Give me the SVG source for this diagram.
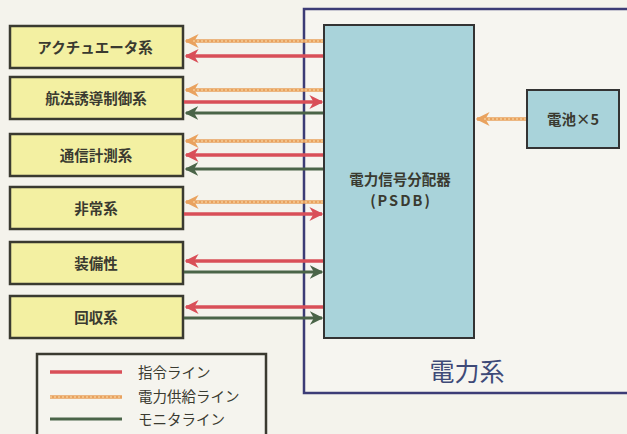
<svg xmlns="http://www.w3.org/2000/svg" width="627" height="434" viewBox="0 0 627 434">
<defs>
<style>
.sys rect{fill:#f3f0a2;stroke:#3a3a30;stroke-width:2.5}
.sys text{font-family:"Noto Sans CJK JP",sans-serif;font-size:14.5px;font-weight:bold;fill:#3a3a30;text-anchor:middle}
.red{stroke:#d94f58;stroke-width:3.5;fill:none}
.org{stroke:#e9a25e;stroke-width:3.5;fill:none}
.orgd{stroke:#fbe0b0;stroke-width:1.2;stroke-dasharray:2 2;fill:none}
.grn{stroke:#4a6448;stroke-width:3;fill:none}
.lg{font-family:"Noto Sans CJK JP",sans-serif;font-size:14.5px;fill:#3a3a30}
.bx{font-family:"Noto Sans CJK JP",sans-serif;font-size:14.5px;font-weight:bold;fill:#3a3a30;text-anchor:middle}
</style>
<marker id="ar" viewBox="0 0 10 10" refX="9" refY="5" markerWidth="4" markerHeight="4" orient="auto-start-reverse" markerUnits="strokeWidth"><path d="M0,0 L10,5 L0,10 L3,5 Z" fill="#d94f58"/></marker>
<marker id="ao" viewBox="0 0 10 10" refX="9" refY="5" markerWidth="4" markerHeight="4" orient="auto-start-reverse" markerUnits="strokeWidth"><path d="M0,0 L10,5 L0,10 L3,5 Z" fill="#e9a25e"/></marker>
<marker id="ag" viewBox="0 0 10 10" refX="9" refY="5" markerWidth="4.5" markerHeight="4.5" orient="auto-start-reverse" markerUnits="strokeWidth"><path d="M0,0 L10,5 L0,10 L3,5 Z" fill="#4a6448"/></marker>
</defs>
<rect width="627" height="434" fill="#f4f3ec"/>

<g id="power-system">
<rect x="304" y="9" width="330" height="384" fill="#f6f5f0" stroke="#3c3c76" stroke-width="2.5"/>
<text x="467" y="381" font-family="Noto Sans CJK JP,sans-serif" font-size="25" fill="#3e4a78" text-anchor="middle">電力系</text>
</g>

<g id="psdb">
<rect x="324" y="25" width="150" height="313" fill="#a9d3da" stroke="#333" stroke-width="2"/>
<text class="bx" x="400" y="185">電力信号分配器</text>
<text class="bx" x="401" y="206" font-size="14" letter-spacing="2">(PSDB)</text>
</g>

<g id="battery">
<rect x="527" y="90" width="92" height="58" fill="#a9d3da" stroke="#333" stroke-width="2"/>
<text class="bx" x="573" y="125">電池×5</text>
</g>

<g id="actuator" class="sys"><rect x="10" y="26" width="173" height="42"/><text x="95" y="53">アクチュエータ系</text></g>
<g id="gnc" class="sys"><rect x="10" y="77" width="173" height="42"/><text x="96" y="104">航法誘導制御系</text></g>
<g id="comm" class="sys"><rect x="10" y="134" width="173" height="42"/><text x="96" y="161">通信計測系</text></g>
<g id="emergency" class="sys"><rect x="10" y="187" width="173" height="42"/><text x="96" y="214">非常系</text></g>
<g id="equipment" class="sys"><rect x="10" y="242" width="173" height="42"/><text x="96" y="269">装備性</text></g>
<g id="recovery" class="sys"><rect x="10" y="296" width="173" height="42"/><text x="96" y="323">回収系</text></g>

<g id="connectors">
<line class="org" x1="323" y1="41" x2="186" y2="41" marker-end="url(#ao)"/><line class="orgd" x1="323" y1="41" x2="192" y2="41"/>
<line class="red" x1="323" y1="56" x2="186" y2="56" marker-end="url(#ar)"/>
<line class="org" x1="323" y1="90" x2="186" y2="90" marker-end="url(#ao)"/><line class="orgd" x1="323" y1="90" x2="192" y2="90"/>
<line class="red" x1="184" y1="102" x2="322" y2="102" marker-end="url(#ar)"/>
<line class="grn" x1="323" y1="113" x2="186" y2="113" marker-end="url(#ag)"/>
<line class="org" x1="323" y1="141" x2="186" y2="141" marker-end="url(#ao)"/><line class="orgd" x1="323" y1="141" x2="192" y2="141"/>
<line class="red" x1="323" y1="155" x2="186" y2="155" marker-end="url(#ar)"/>
<line class="grn" x1="323" y1="169" x2="186" y2="169" marker-end="url(#ag)"/>
<line class="org" x1="323" y1="202" x2="186" y2="202" marker-end="url(#ao)"/><line class="orgd" x1="323" y1="202" x2="192" y2="202"/>
<line class="red" x1="184" y1="214" x2="322" y2="214" marker-end="url(#ar)"/>
<line class="red" x1="323" y1="261" x2="186" y2="261" marker-end="url(#ar)"/>
<line class="grn" x1="184" y1="272" x2="322" y2="272" marker-end="url(#ag)"/>
<line class="red" x1="323" y1="307" x2="186" y2="307" marker-end="url(#ar)"/>
<line class="grn" x1="184" y1="318" x2="322" y2="318" marker-end="url(#ag)"/>
<line class="org" x1="526" y1="119" x2="477" y2="119" marker-end="url(#ao)"/><line class="orgd" x1="526" y1="119" x2="483" y2="119"/>
</g>

<g id="legend">
<rect x="37" y="354" width="229" height="90" fill="#f5f4ee" stroke="#3a3a30" stroke-width="2.5"/>
<line class="red" x1="50" y1="372" x2="122" y2="372"/>
<line class="org" x1="50" y1="397" x2="122" y2="397"/><line class="orgd" x1="50" y1="397" x2="122" y2="397"/>
<line class="grn" x1="50" y1="419" x2="122" y2="419"/>
<text class="lg" x="138" y="378">指令ライン</text>
<text class="lg" x="138" y="402">電力供給ライン</text>
<text class="lg" x="138" y="425">モニタライン</text>
</g>
</svg>
